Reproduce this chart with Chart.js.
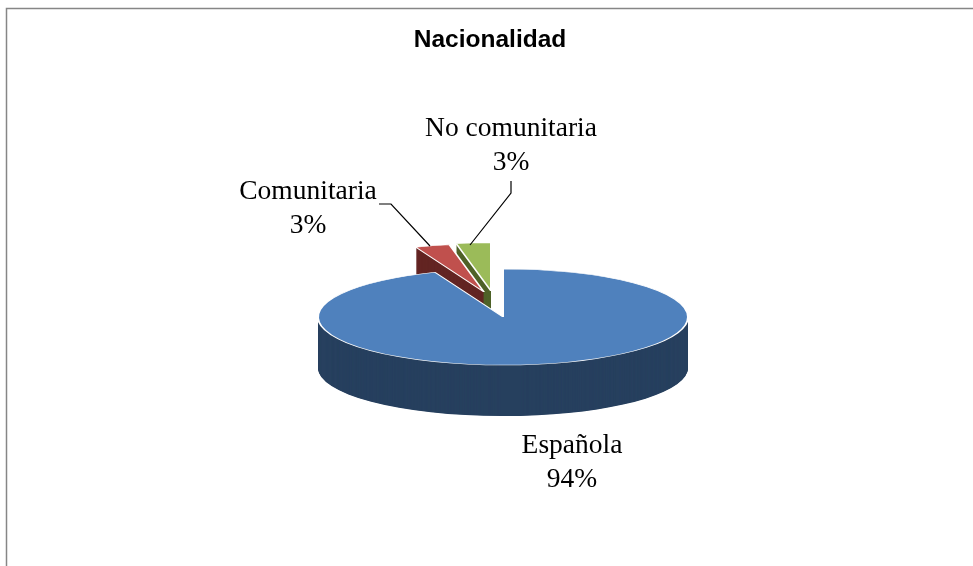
<!DOCTYPE html>
<html lang="es">
<head>
<meta charset="utf-8">
<title>Nacionalidad</title>
<script src="https://cdn.jsdelivr.net/npm/chart.js@4"></script>
<style>
    html, body { margin: 0; padding: 0; background: #fff; overflow: hidden; }
    canvas { display: block; }
</style>
</head>
<body>
<canvas id="pie-chart" width="973" height="566"></canvas>
<script>
const categories = ['Española', 'Comunitaria', 'No comunitaria'];
const values = [94, 3, 3];
const chartTitle = 'Nacionalidad';

const topColors = ['#4f81bd', '#c0504d', '#9bbb59'];
const sideColors = ['#27405f', '#632523', '#4f6228'];

// how far each slice is pulled out of the pie, in screen pixels
const sliceShift = [[0, 0], [-19, -25], [-12, -26]];
const tilt = 0.26; // height / width of the ellipse
const depth = 51; // thickness of the pie
const pieShiftX = 13; // the pie sits right of the title

// label anchors follow category order: centre x, first baseline y
const labelAnchors = [[572, 453], [308, 199], [511, 136]];
const leaderLines = [
    null,
    [[379, 204], [391, 204], [430, 246]],
    [[511, 181], [511, 193], [470, 245]]
];

function drawSlice(ctx, arc, index, fill, border, borderWidth, drop) {
    const shift = sliceShift[index];
    const copy = Object.create(arc);
    copy.options = Object.assign({}, arc.options, {
        backgroundColor: fill,
        borderColor: border,
        borderWidth: borderWidth
    });
    ctx.save();
    ctx.translate(arc.x + pieShiftX + shift[0], arc.y + shift[1] + drop);
    ctx.scale(1, tilt);
    ctx.translate(-arc.x, -arc.y);
    copy.draw(ctx);
    ctx.restore();
}

const pie3d = {
    id: 'pie3d',
    beforeDraw(chart) {
        // frame of the chart, it runs past the window on the right and bottom
        const ctx = chart.ctx;
        ctx.save();
        ctx.strokeStyle = '#868686';
        ctx.lineWidth = 1.5;
        ctx.strokeRect(6.5, 8.5, 1100, 700);
        ctx.restore();
    },
    beforeDatasetsDraw(chart) {
        const ctx = chart.ctx;
        const arcs = chart.getDatasetMeta(0).data;
        // back to front: the big slice hides the bottom of the small ones
        [2, 1, 0].forEach(i => {
            for (let drop = depth; drop > 0; drop -= 0.5) {
                drawSlice(ctx, arcs[i], i, sideColors[i], sideColors[i], 0, drop);
            }
            drawSlice(ctx, arcs[i], i, topColors[i], '#ffffff', 2, 0);
        });
        return false; // skip the flat default drawing
    },
    afterDraw(chart) {
        const ctx = chart.ctx;
        const total = values.reduce((a, b) => a + b, 0);
        ctx.save();
        ctx.fillStyle = '#000';
        ctx.font = '27.5px "Liberation Serif"';
        ctx.textAlign = 'center';
        categories.forEach((name, i) => {
            const [x, y] = labelAnchors[i];
            ctx.fillText(name, x, y);
            ctx.fillText(Math.round(values[i] / total * 100) + '%', x, y + 34);
        });
        ctx.strokeStyle = '#000';
        ctx.lineWidth = 1.2;
        leaderLines.forEach(line => {
            if (!line) return;
            ctx.beginPath();
            line.forEach((p, j) => j ? ctx.lineTo(p[0], p[1]) : ctx.moveTo(p[0], p[1]));
            ctx.stroke();
        });
        ctx.restore();
    }
};

new Chart(document.getElementById('pie-chart'), {
    type: 'pie',
    data: {
        labels: categories,
        datasets: [{
            data: values,
            backgroundColor: topColors,
            borderColor: '#ffffff',
            borderWidth: 2
        }]
    },
    options: {
        responsive: false,
        animation: false,
        radius: 185,
        layout: { padding: { left: 7, top: 9 } },
        plugins: {
            legend: { display: false },
            tooltip: { enabled: false },
            title: {
                display: true,
                text: chartTitle,
                color: '#000',
                font: { family: '"Liberation Sans"', size: 24.5, weight: 'bold' },
                padding: { top: 16.5, bottom: 13.1 }
            }
        }
    },
    plugins: [pie3d]
});
</script>
</body>
</html>
